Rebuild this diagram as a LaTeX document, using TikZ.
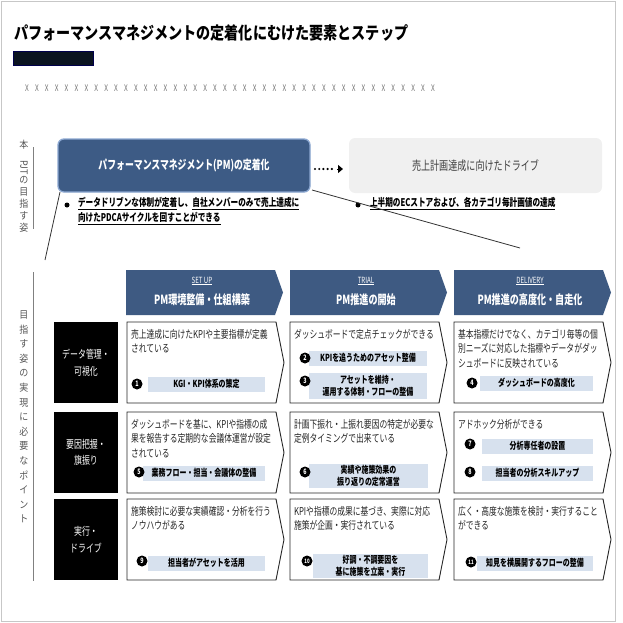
\documentclass[tikz,border=0pt]{standalone}
\usepackage{fontspec}
\usepackage{graphicx}
\setmainfont{Noto Sans CJK JP}[FakeStretch=0.72]
\newfontfamily\titlefont{Noto Sans CJK JP}[FakeStretch=0.82]
\newfontfamily\vfont{Noto Sans CJK JP}[FakeStretch=0.9]
\usetikzlibrary{arrows.meta,calc}
\definecolor{hdr}{HTML}{3E5A82}
\definecolor{pmbox}{HTML}{3D5B85}
\definecolor{pmedge}{HTML}{8AA6D0}
\definecolor{goalbg}{HTML}{F0F0F0}
\definecolor{barbg}{HTML}{D7E1EE}
\definecolor{vlab}{HTML}{555555}
\definecolor{titlebar}{HTML}{0B1420}
\newcommand\myfs[2]{\fontsize{#1}{#2}\selectfont}
\begin{document}
\begin{tikzpicture}[x=1pt,y=-1pt,
  every node/.style={inner sep=0pt, outer sep=0pt},
  cellbox/.style={draw=black!85, line width=0.9pt, fill=white, line join=miter},
  rowlab/.style={fill=black, text=white, minimum width=64pt, minimum height=81pt, align=center, font=\myfs{11}{16.5}},
  celltext/.style={anchor=north west, align=left, font=\myfs{10.8}{14.5}, text=black!85},
  bar/.style={fill=barbg, align=center, font=\bfseries\myfs{9.7}{12.5}, text=black},
  num/.style={circle, fill=black, text=white, minimum size=11pt, font=\bfseries\myfs{7.5}{7.5}},
  numtwo/.style={num, font=\bfseries\myfs{6}{6}},
  vlabel/.style={text=vlab, align=center},
  bullet/.style={circle, fill=black, minimum size=5pt},
  btext/.style={anchor=north west, align=left, font=\bfseries\myfs{10.6}{15}},
  hdrsub/.style={text=white, font=\myfs{8.5}{9}},
  hdrmain/.style={text=white, font=\bfseries\myfs{12.6}{14}},
  guide/.style={black!80, line width=0.8pt},
]
\useasboundingbox (0,0) rectangle (623,623);
\draw[black!22, line width=0.8pt] (1,1) rectangle (615,621);

% title
\node[anchor=west, font=\titlefont\bfseries\myfs{17.2}{20}] (title) at (14,33) {パフォーマンスマネジメントの定着化にむけた要素とステップ};
\node[fill=titlebar, draw=black!70!blue, line width=0.4pt, minimum width=80pt, minimum height=14pt, anchor=north west] (tbar) at (13,51) {};
\foreach \i in {0,...,41} \node[text=black!55, font=\myfs{9}{9}] (x\i) at ({27+\i*9.9},88) {X};

% vertical labels and lines
\node[vlabel, font=\vfont\myfs{10}{12}] (vl1) at (24,186) {本\\\rotatebox{-90}{PJT}\\の\\目\\指\\す\\姿};
\node[vlabel, font=\vfont\myfs{10}{14.6}] (vl2) at (24,417) {目\\指\\す\\姿\\の\\実\\現\\に\\必\\要\\な\\ポ\\イ\\ン\\ト};
\draw[black!50, line width=0.8pt] (33,147) -- (33,229);
\draw[black!50, line width=0.8pt] (33,272) -- (33,581);

% goal boxes
\node[draw=pmedge, line width=1.3pt, fill=pmbox, rounded corners=6pt, minimum width=252pt, minimum height=53pt, text=white, font=\bfseries\myfs{12.3}{14}] (pm) at (184,165.5) {パフォーマンスマネジメント(PM)の定着化};
\node[fill=goalbg, rounded corners=6pt, minimum width=253pt, minimum height=55pt, text=black!75, font=\myfs{12.6}{14}] (goal) at (475.5,165.5) {売上計画達成に向けたドライブ};
\draw[line width=2.4pt, line cap=round, dash pattern=on 0pt off 4.2pt] ([xshift=5pt,yshift=-3.5pt]pm.east) -- ([xshift=-14pt,yshift=-3.5pt]goal.west);
\draw[-{Triangle[length=5pt,width=8pt]}, line width=1pt] ([xshift=-12pt,yshift=-3.5pt]goal.west) -- ([xshift=-6pt,yshift=-3.5pt]goal.west);

% bullets
\node[bullet] (b1) at (67,205) {};
\node[btext] (t1) at (78,197.5) {\underline{データドリブンな体制が定着}し、\underline{自社メンバーのみで売上達成に}\\\underline{向けたPDCAサイクルを回すことができる}};
\node[bullet] (b2) at (358,205) {};
\node[btext] (t2) at (370,197.5) {\underline{上半期のECストアおよび、各カテゴリ毎計画値の達成}};

% guide lines
\coordinate (dl) at (45,260);
\coordinate (dr) at (520,248);
\draw[guide] ([xshift=2pt]pm.south west) -- (dl);
\draw[guide] ([xshift=2pt,yshift=2pt]pm.south east) -- (dr);

% phase headers
\foreach \L/\nm/\sub/\mn in {126/h1/SET UP/PM環境整備・仕組構築, 290/h2/TRIAL/PM推進の開始, 454/h3/DELIVERY/PM推進の高度化・自走化} {
  \fill[hdr] (\L,270) -- ({\L+149},270) -- ({\L+157},292.5) -- ({\L+149},315) -- (\L,315) -- cycle;
  \node[hdrsub] (\nm s) at ({\L+76},281) {\underline{\sub}};
  \node[hdrmain] (\nm m) at ({\L+76},300) {\mn};
}

% row labels
\node[rowlab] (r1) at (86,362.5) {データ管理・\\可視化};
\node[rowlab] (r2) at (86,452.5) {要因把握・\\旗振り};
\node[rowlab] (r3) at (86,539.5) {実行・\\ドライブ};

% cells
\foreach \T/\B in {322/403, 412/493, 499/580} {
  \foreach \L in {127,290,454} {
    \draw[cellbox] (\L,\T) -- ({\L+149},\T) -- ({\L+157},{(\T+\B)/2}) -- ({\L+149},\B) -- (\L,\B) -- cycle;
  }
}

% cell texts
\node[celltext] (c11) at (131,329) {売上達成に向けたKPIや主要指標が定義\\されている};
\node[celltext] (c12) at (294,329) {ダッシュボードで定点チェックができる};
\node[celltext] (c13) at (458,329) {基本指標だけでなく、カテゴリ毎等の個\\別ニーズに対応した指標やデータがダッ\\シュボードに反映されている};
\node[celltext] (c21) at (131,419) {ダッシュボードを基に、KPIや指標の成\\果を報告する定期的な会議体運営が設定\\されている};
\node[celltext] (c22) at (294,419) {計画下振れ・上振れ要因の特定が必要な\\定例タイミングで出来ている};
\node[celltext] (c23) at (458,419) {アドホック分析ができる};
\node[celltext] (c31) at (131,506) {施策検討に必要な実績確認・分析を行う\\ノウハウがある};
\node[celltext] (c32) at (294,506) {KPIや指標の成果に基づき、実際に対応\\施策が企画・実行されている};
\node[celltext] (c33) at (458,506) {広く・高度な施策を検討・実行すること\\ができる};

% bars
\node[bar, minimum width=117pt, minimum height=15pt] (k1) at (206.5,384) {KGI・KPI体系の策定};
\node[bar, minimum width=118pt, minimum height=15pt] (k2) at (368,358) {KPIを追うためのアセット整備};
\node[bar, minimum width=118pt, minimum height=26pt] (k3) at (368,386) {アセットを維持・\\運用する体制・フローの整備};
\node[bar, minimum width=113pt, minimum height=15pt] (k4) at (536.5,383) {ダッシュボードの高度化};
\node[bar, minimum width=122pt, minimum height=15pt] (k5) at (204,473) {業務フロー・担当・会議体の整備};
\node[bar, minimum width=119pt, minimum height=24pt] (k6) at (368.5,476) {実績や施策効果の\\振り返りの定常運営};
\node[bar, minimum width=111pt, minimum height=15pt] (k7) at (537.5,446) {分析専任者の設置};
\node[bar, minimum width=111pt, minimum height=15pt] (k8) at (537.5,473) {担当者の分析スキルアップ};
\node[bar, minimum width=117pt, minimum height=15pt] (k9) at (206.5,563) {担当者がアセットを活用};
\node[bar, minimum width=115pt, minimum height=24pt] (k10) at (370.5,566) {好調・不調要因を\\基に施策を立案・実行};
\node[bar, minimum width=116pt, minimum height=15pt] (k11) at (535,563) {知見を横展開するフローの整備};

% numbers
\node[num] (n1) at (137,384) {1};
\node[num] (n2) at (305,358) {2};
\node[num] (n3) at (305,381) {3};
\node[num] (n4) at (472,383) {4};
\node[num] (n5) at (139,472) {5};
\node[num] (n6) at (305,472) {6};
\node[num] (n7) at (470,444) {7};
\node[num] (n8) at (470,472) {8};
\node[num] (n9) at (142,561) {9};
\node[numtwo] (n10) at (307,561) {10};
\node[numtwo] (n11) at (471,562) {11};
\end{tikzpicture}
\end{document}
